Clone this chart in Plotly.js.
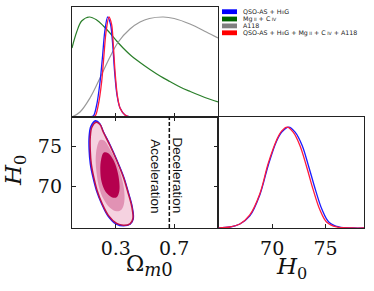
<!DOCTYPE html>
<html>
<head>
<meta charset="utf-8">
<script src="https://cdn.plot.ly/plotly-3.0.1.min.js"></script>
<style>html,body{margin:0;padding:0;background:#fff;}#chart{width:374px;height:291px;}</style>
</head>
<body>
<div id="chart"></div>
<script>
// ---------- data ----------
// 1D marginal of Omega_m0 (top-left panel), normalised to peak 1
const omegaRed   = [0.120,0.158,0.180,0.203,0.219,0.233,0.253,0.272,0.283,0.295,0.310,0.329,0.363,0.397,0.450];
const probRed    = [0.00,0.01,0.12,0.35,0.62,0.85,1.00,0.92,0.72,0.45,0.22,0.09,0.02,0.00,0.00];
const omegaBlue  = [0.110,0.146,0.169,0.192,0.210,0.224,0.244,0.265,0.279,0.292,0.308,0.329,0.363,0.397,0.450];
const probBlue   = [0.00,0.01,0.12,0.35,0.62,0.85,1.00,0.92,0.72,0.45,0.22,0.09,0.02,0.00,0.00];
const omegaGreen = [0.000,0.032,0.066,0.119,0.169,0.215,0.260,0.306,0.350,0.400,0.466,0.534,0.603,0.670,0.740,0.810,0.877,0.940,1.000];
const probGreen  = [0.69,0.85,0.96,1.00,0.97,0.91,0.84,0.76,0.69,0.62,0.545,0.475,0.41,0.355,0.30,0.255,0.215,0.18,0.15];
const omegaGray  = [0.000,0.055,0.123,0.192,0.260,0.317,0.397,0.466,0.530,0.626,0.700,0.808,0.920,1.000];
const probGray   = [0.00,0.05,0.19,0.39,0.60,0.75,0.88,0.95,0.985,1.00,0.985,0.93,0.85,0.79];

// 1D marginal of H0 (bottom-right panel)
const h0Red  = [65.0,66.04,66.98,67.91,68.85,69.63,70.41,70.88,71.40,71.97,72.59,73.22,73.84,74.47,75.09,76.03,77.5,78.6];
const pH0Red = [0.00,0.01,0.04,0.13,0.34,0.64,0.87,0.96,1.00,0.95,0.82,0.61,0.38,0.18,0.06,0.01,0.00,0.00];
const h0Blue  = [65.0,66.04,66.98,67.91,68.85,69.63,70.41,70.90,71.55,72.15,72.80,73.42,74.05,74.68,75.30,76.25,77.6,78.6];
const pH0Blue = [0.00,0.01,0.04,0.12,0.33,0.62,0.86,0.95,1.00,0.95,0.82,0.61,0.38,0.18,0.06,0.01,0.00,0.00];

// 2D contours (Omega_m0, H0) for the combined data set (outer, middle, inner)
const omegaOuter = [0.165,0.136,0.125,0.125,0.132,0.149,0.172,0.207,0.249,0.306,0.352,0.397,0.417,0.410,0.386,0.352,0.306,0.260,0.215,0.192,0.165];
const h0Outer    = [77.95,77.33,76.11,74.47,72.83,71.19,69.56,67.91,66.49,65.50,65.28,65.45,66.07,67.51,69.14,71.19,73.24,75.09,76.72,77.67,77.95];
const omegaMid   = [0.192,0.171,0.162,0.169,0.185,0.215,0.260,0.306,0.340,0.358,0.356,0.336,0.299,0.253,0.221,0.192];
const h0Mid      = [75.77,74.88,73.24,71.60,69.96,68.53,67.42,66.98,67.22,68.12,69.75,71.40,73.24,74.88,75.70,75.77];
const omegaInner = [0.218,0.200,0.194,0.203,0.231,0.272,0.306,0.324,0.324,0.310,0.283,0.249,0.218];
const h0Inner    = [74.22,73.44,72.01,70.58,69.35,68.73,68.73,69.47,70.58,72.01,73.32,74.14,74.22];
// outer contour of QSO-AS + HIIG (blue outline)
const omegaOuterBlue = [0.161,0.130,0.118,0.118,0.126,0.144,0.168,0.204,0.246,0.304,0.352,0.398,0.419,0.412,0.388,0.354,0.308,0.262,0.215,0.190,0.161];
const h0OuterBlue    = [78.12,77.45,76.20,74.50,72.83,71.19,69.56,67.91,66.45,65.42,65.20,65.40,66.07,67.51,69.14,71.19,73.24,75.09,76.75,77.78,78.12];

const decelOmega = 2/3;
const omegaTicks = [0.3, 0.7];
const omegaTickText = ['0.3', '0.7'];
const h0Ticks = [70, 75];
const h0TickText = ['70', '75'];
const legendNames = [
  "QSO-AS + H<span style='font-size:4.6px'>II</span>G",
  "Mg<span style='font-size:4.6px'> II</span> + C<span style='font-size:4.6px'> IV</span>",
  "A118",
  "QSO-AS + H<span style='font-size:4.6px'>II</span>G + Mg<span style='font-size:4.6px'> II</span> + C<span style='font-size:4.6px'> IV</span> + A118"
];
const legendColors = ['#0000ff', '#006400', '#808080', '#ff0000'];

// ---------- layout geometry ----------
const W = 374, H = 291;
const px = x => x / W;
const py = y => 1 - y / H;
const X1 = [px(72), px(218)], X2 = [px(218), px(364)];
const YT = [py(117), py(7)], YB = [py(228), py(117)];
const H0RANGE = [64.93, 78.6];

const lineC = '#222';
const serif = 'DejaVu Serif';

const traces = [
  // top-left: Omega marginals
  {x: omegaGreen, y: probGreen, xaxis: 'x', yaxis: 'y', mode: 'lines', line: {color: '#2a7f2a', width: 1.2, shape: 'spline', smoothing: 1}},
  {x: omegaGray, y: probGray, xaxis: 'x', yaxis: 'y', mode: 'lines', line: {color: '#999999', width: 1.2, shape: 'spline', smoothing: 1}},
  {x: omegaBlue, y: probBlue, xaxis: 'x', yaxis: 'y', mode: 'lines', line: {color: '#1a1aff', width: 1.3, shape: 'spline', smoothing: 0.8}},
  {x: omegaRed, y: probRed, xaxis: 'x', yaxis: 'y', mode: 'lines', line: {color: '#ff1a3c', width: 1.3, shape: 'spline', smoothing: 0.8}},
  // bottom-left: 2D contours
  {x: omegaOuterBlue, y: h0OuterBlue, xaxis: 'x2', yaxis: 'y2', mode: 'lines', line: {color: '#1a1aff', width: 1.6, shape: 'spline', smoothing: 1}},
  {x: omegaOuter, y: h0Outer, xaxis: 'x2', yaxis: 'y2', mode: 'lines', fill: 'toself', fillcolor: '#f5d2e0', line: {color: '#c0104a', width: 1.5, shape: 'spline', smoothing: 1}},
  {x: omegaMid, y: h0Mid, xaxis: 'x2', yaxis: 'y2', mode: 'lines', fill: 'toself', fillcolor: '#e192b4', line: {color: '#e192b4', width: 0, shape: 'spline', smoothing: 1}},
  {x: omegaInner, y: h0Inner, xaxis: 'x2', yaxis: 'y2', mode: 'lines', fill: 'toself', fillcolor: '#b5004e', line: {color: '#b5004e', width: 0, shape: 'spline', smoothing: 1}},
  // bottom-right: H0 marginals
  {x: h0Blue, y: pH0Blue, xaxis: 'x3', yaxis: 'y3', mode: 'lines', line: {color: '#1a1aff', width: 1.3, shape: 'spline', smoothing: 1}},
  {x: h0Red, y: pH0Red, xaxis: 'x3', yaxis: 'y3', mode: 'lines', line: {color: '#ff1a3c', width: 1.3, shape: 'spline', smoothing: 1}}
];

const baseAxis = {showline: true, linecolor: lineC, linewidth: 1.2, mirror: true, showgrid: false, zeroline: false,
  ticks: 'inside', ticklen: 4, tickwidth: 1, tickcolor: lineC, fixedrange: true,
  tickfont: {family: serif, size: 19, color: '#111'}};

const shapes = [
  {type: 'line', xref: 'x2', yref: 'y2 domain', x0: decelOmega, x1: decelOmega, y0: 0, y1: 1,
   line: {color: '#111', width: 1.5, dash: '4px,2px'}}
];
const annotations = [
  {xref: 'x2', yref: 'y2 domain', x: 0.572, y: 0.47, text: 'Acceleration', textangle: 90, showarrow: false,
   xanchor: 'center', yanchor: 'middle', font: {family: 'Liberation Sans', size: 13.5, color: '#111'}},
  {xref: 'x2', yref: 'y2 domain', x: 0.722, y: 0.47, text: 'Deceleration', textangle: 90, showarrow: false,
   xanchor: 'center', yanchor: 'middle', font: {family: 'Liberation Sans', size: 13.5, color: '#111'}},
  {xref: 'paper', yref: 'paper', x: px(149), y: py(265), text: "Ω<sub><span style='font-size:18px'><i>m</i>0</span></sub>", showarrow: false,
   xanchor: 'center', yanchor: 'middle', font: {family: serif, size: 22, color: '#111'}},
  {xref: 'paper', yref: 'paper', x: px(291), y: py(268), text: "<i>H</i><sub>0</sub>", showarrow: false,
   xanchor: 'center', yanchor: 'middle', font: {family: serif, size: 23, color: '#111'}},
  {xref: 'paper', yref: 'paper', x: px(15), y: py(171), text: "<i>H</i><sub>0</sub>", textangle: -90, showarrow: false,
   xanchor: 'center', yanchor: 'middle', font: {family: serif, size: 23, color: '#111'}}
];
const legendY = [11.7, 19.0, 25.9, 32.8];
legendNames.forEach((name, i) => {
  shapes.push({type: 'rect', xref: 'paper', yref: 'paper', x0: px(222), x1: px(237), y0: py(legendY[i] + 2.4), y1: py(legendY[i] - 2.4),
    fillcolor: legendColors[i], line: {width: 0}});
  annotations.push({xref: 'paper', yref: 'paper', x: px(241), y: py(legendY[i]), text: name, showarrow: false,
    xanchor: 'left', yanchor: 'middle', font: {family: 'DejaVu Sans', size: 6.3, color: '#222'}});
});

const layout = {
  width: W, height: H, margin: {l: 0, r: 0, t: 0, b: 0}, paper_bgcolor: '#fff', plot_bgcolor: '#fff',
  showlegend: false,
  xaxis: Object.assign({}, baseAxis, {domain: X1, anchor: 'y', range: [0, 1], tickvals: omegaTicks, showticklabels: false}),
  yaxis: Object.assign({}, baseAxis, {domain: YT, anchor: 'x', range: [0, 1.1], ticks: '', showticklabels: false}),
  xaxis2: Object.assign({}, baseAxis, {domain: X1, anchor: 'y2', range: [0, 1], tickvals: omegaTicks, ticktext: omegaTickText, mirror: 'ticks', ticklabelstandoff: 3}),
  yaxis2: Object.assign({}, baseAxis, {domain: YB, anchor: 'x2', range: H0RANGE, tickvals: h0Ticks, ticktext: h0TickText, mirror: 'ticks', ticklabelstandoff: 5}),
  xaxis3: Object.assign({}, baseAxis, {domain: X2, anchor: 'y3', range: H0RANGE, tickvals: h0Ticks, ticktext: h0TickText, ticklabelstandoff: 3}),
  yaxis3: Object.assign({}, baseAxis, {domain: YB, anchor: 'x3', range: [0, 1.1], ticks: '', showticklabels: false}),
  shapes: shapes,
  annotations: annotations
};

Plotly.newPlot('chart', traces, layout, {staticPlot: true, displayModeBar: false});
</script>
</body>
</html>
